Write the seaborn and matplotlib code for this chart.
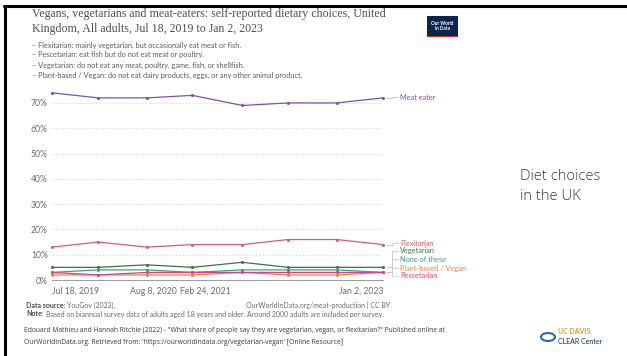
import matplotlib
matplotlib.use("Agg")
import matplotlib.pyplot as plt
import matplotlib.dates as mdates
from matplotlib.lines import Line2D
from matplotlib.patches import Rectangle, Circle
import seaborn as sns
import pandas as pd
import numpy as np

# ---------------- data ----------------
dates = ["2019-07-18", "2020-01-10", "2020-07-15", "2021-01-04",
         "2021-07-14", "2022-01-04", "2022-07-10", "2023-01-02"]
meat_eater = [74, 72, 72, 73, 69, 70, 70, 72]
flexitarian = [13, 15, 13, 14, 14, 16, 16, 14]
vegetarian = [5, 5, 6, 5, 7, 5, 5, 5]
none_of_these = [3, 4, 4, 3, 4, 4, 4, 3]
plant_based = [2, 2, 2, 2, 3, 2, 2, 3]
pescetarian = [3, 2, 3, 3, 3, 3, 3, 3]

series_names = ["Meat eater", "Flexitarian", "Vegetarian", "None of these",
                "Plant-based / Vegan", "Pescetarian"]
series_vals = [meat_eater, flexitarian, vegetarian, none_of_these,
               plant_based, pescetarian]
colors = ["#7D52AA", "#CF5E79", "#3B7440", "#3FA27F", "#E2843E", "#DC3F8A"]

xtick_dates = ["2019-07-18", "2020-08-08", "2021-02-24", "2023-01-02"]
xtick_labels = ["Jul 18, 2019", "Aug 8, 2020", "Feb 24, 2021", "Jan 2, 2023"]
ytick_vals = [0, 10, 20, 30, 40, 50, 60, 70]

rows = []
for name, vals in zip(series_names, series_vals):
    for d, v in zip(dates, vals):
        rows.append({"date": pd.Timestamp(d), "diet": name, "share": v})
df = pd.DataFrame(rows)

# ---------------- figure ----------------
W, H = 627, 356
fig = plt.figure(figsize=(W / 100, H / 100), dpi=100)
sns.set_style("white")
plt.rcParams["font.family"] = ["Lato", "DejaVu Sans"]

def fx(px):
    return px / W

def fy(py):
    return 1 - py / H

y0_px, ytop_px = 280, 90.3
ymax = 75
ax = fig.add_axes([fx(52), fy(y0_px), fx(383) - fx(52), (y0_px - ytop_px) / H])

sns.lineplot(data=df, x="date", y="share", hue="diet", hue_order=series_names,
             palette=colors, marker="o", markersize=2.2, markeredgewidth=0,
             linewidth=0.9, ax=ax, legend=False, clip_on=False)

ax.set_xlim(pd.Timestamp(dates[0]), pd.Timestamp(dates[-1]))
ax.set_ylim(0, ymax)
for s in ["top", "right", "left"]:
    ax.spines[s].set_visible(False)
ax.spines["bottom"].set_color("#a0a0a0")
ax.spines["bottom"].set_linewidth(0.8)

ax.set_yticks(ytick_vals)
ax.set_yticklabels([f"{v}%" for v in ytick_vals], color="#6b6b6b", fontsize=6.2)
ax.tick_params(axis="y", length=0, pad=3)
for v in ytick_vals[1:]:
    ax.axhline(v, color="#d9d9d9", linewidth=0.6, linestyle=(0, (2, 2)), zorder=0)

xt = [pd.Timestamp(d) for d in xtick_dates]
ax.set_xticks(xt)
ax.set_xticklabels(xtick_labels, color="#6b6b6b", fontsize=6.2)
ax.tick_params(axis="x", length=3, color="#a0a0a0", width=0.7, pad=2)
labs = ax.get_xticklabels()
labs[0].set_ha("left")
labs[-1].set_ha("right")
ax.set_xlabel("")
ax.set_ylabel("")

# ---------------- right-hand labels ----------------
label_y_px = [97, 243, 251, 259, 268, 276]  # label centres (pixels from top)
for name, vals, col, ly in zip(series_names, series_vals, colors, label_y_px):
    end_disp = ax.transData.transform((mdates.date2num(pd.Timestamp(dates[-1])), vals[-1]))
    ex = end_disp[0] / W
    ey = end_disp[1] / H
    lx = fx(400)
    lyy = fy(ly)
    mid = fx(392)
    fig.add_artist(Line2D([ex + fx(3), mid, mid, lx - fx(2)],
                          [ey, ey, lyy, lyy], color="#c8c8c8", linewidth=0.6))
    fig.text(lx, lyy, name, color=col, fontsize=5.3, va="center", ha="left")

# ---------------- titles ----------------
title_font = ["Liberation Serif", "DejaVu Serif"]
fig.text(fx(32), fy(14), "Vegans, vegetarians and meat-eaters: self-reported dietary choices, United",
         fontsize=8.6, color="#4f4f4f", family=title_font, va="center")
fig.text(fx(32), fy(29), "Kingdom, All adults, Jul 18, 2019 to Jan 2, 2023",
         fontsize=8.6, color="#4f4f4f", family=title_font, va="center")
subs = ["– Flexitarian: mainly vegetarian, but occasionally eat meat or fish.",
        "– Pescetarian: eat fish but do not eat meat or poultry.",
        "– Vegetarian: do not eat any meat, poultry, game, fish, or shellfish.",
        "– Plant-based / Vegan: do not eat dairy products, eggs, or any other animal product."]
for i, s in enumerate(subs):
    fig.text(fx(32), fy(45 + 10 * i), s, fontsize=5.3, color="#5b5b5b", va="center")

# OWID logo
fig.add_artist(Rectangle((fx(427), fy(36)), fx(31), (36 - 16) / H, transform=fig.transFigure,
                         facecolor="#0c2550", edgecolor="none"))
fig.add_artist(Rectangle((fx(427), fy(37)), fx(31), 1.5 / H, transform=fig.transFigure,
                         facecolor="#d42b1e", edgecolor="none"))
fig.text(fx(442.5), fy(26), "Our World\nin Data", color="white", fontsize=3.4,
         ha="center", va="center", linespacing=1.0, weight="bold")

# side text
fig.text(fx(520), fy(176), "Diet choices", fontsize=10.6, color="#3a3a3a", va="center",
         family=["Open Sans", "DejaVu Sans"], weight="light")
fig.text(fx(520), fy(196), "in the UK", fontsize=10.6, color="#3a3a3a", va="center",
         family=["Open Sans", "DejaVu Sans"], weight="light")

# footer
renderer = fig.canvas.get_renderer()

def pair(x, y, bold, rest):
    t = fig.text(fx(x), fy(y), bold, fontsize=5.0, color="#4a4a4a", weight="bold", va="center")
    bb = t.get_window_extent(renderer=renderer)
    fig.text((bb.x1 + 2) / W, fy(y), rest, fontsize=5.0, color="#6b6b6b", va="center")

pair(26, 305, "Data source:", "YouGov (2023).")
fig.text(fx(390), fy(305), "OurWorldInData.org/meat-production | CC BY", fontsize=5.0,
         color="#6b6b6b", va="center", ha="right")
pair(26, 314, "Note:", "Based on biannual survey data of adults aged 18 years and older. Around 2000 adults are included per survey.")

fig.text(fx(24), fy(330), "Edouard Mathieu and Hannah Ritchie (2022) - \"What share of people say they are vegetarian, vegan, or flexitarian?\" Published online at",
         fontsize=4.9, color="#3a3a3a", va="center", family=["Open Sans", "DejaVu Sans"])
fig.text(fx(24), fy(343), "OurWorldInData.org. Retrieved from: 'https://ourworldindata.org/vegetarian-vegan' [Online Resource]",
         fontsize=4.9, color="#3a3a3a", va="center", family=["Open Sans", "DejaVu Sans"])

# UC Davis logo
fig.add_artist(Circle((fx(548), fy(337)), 7 / W, transform=fig.transFigure,
                      facecolor="none", edgecolor="#2b6aa8", linewidth=1.5))
fig.text(fx(558), fy(332), "UC DAVIS", fontsize=5.0, color="#c9a23a", weight="bold", va="center")
fig.text(fx(558), fy(341), "CLEAR Center", fontsize=5.0, color="#0f2d5a", va="center")

# slide frame
fig.add_artist(Line2D([fx(4), 1], [fy(6), fy(6)], color="black", linewidth=2.2))
fig.add_artist(Line2D([fx(5), fx(5)], [fy(6), 0], color="black", linewidth=2.2))

fig.savefig("out.png", dpi=100, facecolor="white")
